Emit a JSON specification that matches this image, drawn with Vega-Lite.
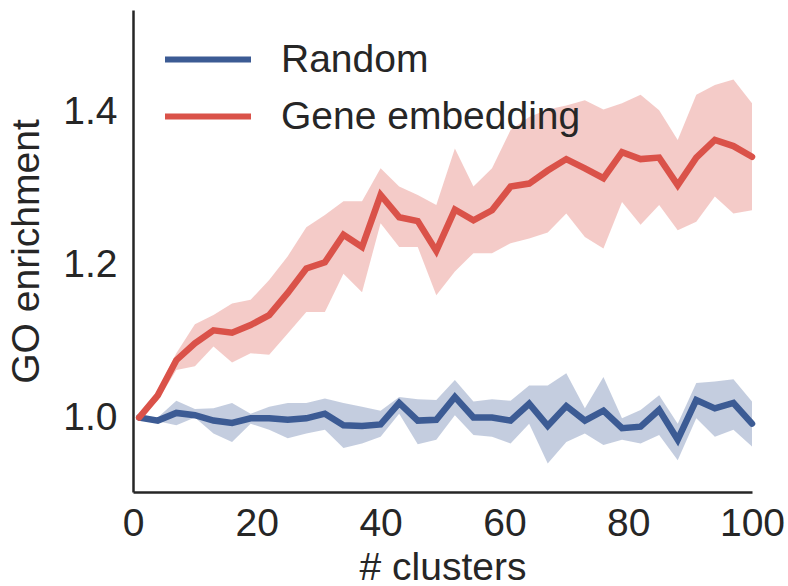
{
  "$schema": "https://vega.github.io/schema/vega-lite/v6.json",
  "width": 619,
  "height": 482,
  "autosize": {"type": "none"},
  "padding": {"left": 133, "top": 10, "right": 36, "bottom": 94},
  "background": "white",
  "config": {
    "view": {"stroke": null},
    "font": "Liberation Sans",
    "axis": {
      "grid": false,
      "ticks": false,
      "domainColor": "#262626",
      "domainWidth": 2.5,
      "labelFont": "Liberation Sans",
      "labelFontSize": 39,
      "labelColor": "#262626",
      "titleFont": "Liberation Sans",
      "titleFontSize": 39,
      "titleFontWeight": "normal",
      "titleColor": "#262626"
    },
    "legend": {
      "labelFont": "Liberation Sans",
      "labelFontSize": 39,
      "labelColor": "#262626",
      "labelLimit": 500
    }
  },
  "data": {
    "values": [
      {"n":1,"series":"Random","mean":1.000,"lo":1.000,"hi":1.000},
      {"n":4,"series":"Random","mean":0.996,"lo":0.995,"hi":1.000},
      {"n":7,"series":"Random","mean":1.006,"lo":0.990,"hi":1.022},
      {"n":10,"series":"Random","mean":1.003,"lo":1.000,"hi":1.011},
      {"n":13,"series":"Random","mean":0.996,"lo":0.979,"hi":1.012},
      {"n":16,"series":"Random","mean":0.993,"lo":0.968,"hi":1.019},
      {"n":19,"series":"Random","mean":0.999,"lo":0.992,"hi":1.005},
      {"n":22,"series":"Random","mean":0.999,"lo":0.984,"hi":1.014},
      {"n":25,"series":"Random","mean":0.997,"lo":0.973,"hi":1.019},
      {"n":28,"series":"Random","mean":0.999,"lo":0.979,"hi":1.019},
      {"n":31,"series":"Random","mean":1.005,"lo":0.984,"hi":1.025},
      {"n":34,"series":"Random","mean":0.990,"lo":0.960,"hi":1.019},
      {"n":37,"series":"Random","mean":0.989,"lo":0.966,"hi":1.014},
      {"n":40,"series":"Random","mean":0.991,"lo":0.975,"hi":1.009},
      {"n":43,"series":"Random","mean":1.019,"lo":1.005,"hi":1.027},
      {"n":46,"series":"Random","mean":0.996,"lo":0.965,"hi":1.024},
      {"n":49,"series":"Random","mean":0.997,"lo":0.971,"hi":1.023},
      {"n":52,"series":"Random","mean":1.027,"lo":1.003,"hi":1.049},
      {"n":55,"series":"Random","mean":1.000,"lo":0.977,"hi":1.021},
      {"n":58,"series":"Random","mean":1.000,"lo":0.975,"hi":1.024},
      {"n":61,"series":"Random","mean":0.996,"lo":0.966,"hi":1.022},
      {"n":64,"series":"Random","mean":1.018,"lo":0.992,"hi":1.042},
      {"n":67,"series":"Random","mean":0.989,"lo":0.940,"hi":1.042},
      {"n":70,"series":"Random","mean":1.015,"lo":0.968,"hi":1.058},
      {"n":73,"series":"Random","mean":0.996,"lo":0.979,"hi":1.012},
      {"n":76,"series":"Random","mean":1.009,"lo":0.964,"hi":1.053},
      {"n":79,"series":"Random","mean":0.986,"lo":0.971,"hi":0.999},
      {"n":82,"series":"Random","mean":0.988,"lo":0.966,"hi":1.010},
      {"n":85,"series":"Random","mean":1.010,"lo":0.977,"hi":1.029},
      {"n":88,"series":"Random","mean":0.971,"lo":0.944,"hi":0.992},
      {"n":91,"series":"Random","mean":1.023,"lo":0.999,"hi":1.045},
      {"n":94,"series":"Random","mean":1.012,"lo":0.975,"hi":1.047},
      {"n":97,"series":"Random","mean":1.019,"lo":0.984,"hi":1.050},
      {"n":100,"series":"Random","mean":0.992,"lo":0.962,"hi":1.021},
      {"n":1,"series":"Gene embedding","mean":1.000,"lo":1.000,"hi":1.000},
      {"n":4,"series":"Gene embedding","mean":1.029,"lo":1.022,"hi":1.036},
      {"n":7,"series":"Gene embedding","mean":1.075,"lo":1.062,"hi":1.084},
      {"n":10,"series":"Gene embedding","mean":1.097,"lo":1.067,"hi":1.122},
      {"n":13,"series":"Gene embedding","mean":1.114,"lo":1.093,"hi":1.134},
      {"n":16,"series":"Gene embedding","mean":1.111,"lo":1.072,"hi":1.149},
      {"n":19,"series":"Gene embedding","mean":1.121,"lo":1.084,"hi":1.154},
      {"n":22,"series":"Gene embedding","mean":1.134,"lo":1.082,"hi":1.180},
      {"n":25,"series":"Gene embedding","mean":1.163,"lo":1.110,"hi":1.211},
      {"n":28,"series":"Gene embedding","mean":1.195,"lo":1.138,"hi":1.249},
      {"n":31,"series":"Gene embedding","mean":1.203,"lo":1.138,"hi":1.265},
      {"n":34,"series":"Gene embedding","mean":1.239,"lo":1.188,"hi":1.283},
      {"n":37,"series":"Gene embedding","mean":1.223,"lo":1.164,"hi":1.283},
      {"n":40,"series":"Gene embedding","mean":1.291,"lo":1.254,"hi":1.326},
      {"n":43,"series":"Gene embedding","mean":1.262,"lo":1.223,"hi":1.302},
      {"n":46,"series":"Gene embedding","mean":1.257,"lo":1.223,"hi":1.291},
      {"n":49,"series":"Gene embedding","mean":1.218,"lo":1.160,"hi":1.278},
      {"n":52,"series":"Gene embedding","mean":1.272,"lo":1.191,"hi":1.352},
      {"n":55,"series":"Gene embedding","mean":1.258,"lo":1.215,"hi":1.302},
      {"n":58,"series":"Gene embedding","mean":1.271,"lo":1.215,"hi":1.326},
      {"n":61,"series":"Gene embedding","mean":1.302,"lo":1.228,"hi":1.376},
      {"n":64,"series":"Gene embedding","mean":1.306,"lo":1.234,"hi":1.393},
      {"n":67,"series":"Gene embedding","mean":1.323,"lo":1.242,"hi":1.403},
      {"n":70,"series":"Gene embedding","mean":1.338,"lo":1.267,"hi":1.408},
      {"n":73,"series":"Gene embedding","mean":1.326,"lo":1.236,"hi":1.415},
      {"n":76,"series":"Gene embedding","mean":1.313,"lo":1.221,"hi":1.403},
      {"n":79,"series":"Gene embedding","mean":1.347,"lo":1.282,"hi":1.411},
      {"n":82,"series":"Gene embedding","mean":1.338,"lo":1.252,"hi":1.422},
      {"n":85,"series":"Gene embedding","mean":1.340,"lo":1.278,"hi":1.402},
      {"n":88,"series":"Gene embedding","mean":1.304,"lo":1.245,"hi":1.363},
      {"n":91,"series":"Gene embedding","mean":1.340,"lo":1.256,"hi":1.422},
      {"n":94,"series":"Gene embedding","mean":1.363,"lo":1.289,"hi":1.435},
      {"n":97,"series":"Gene embedding","mean":1.355,"lo":1.267,"hi":1.442},
      {"n":100,"series":"Gene embedding","mean":1.341,"lo":1.271,"hi":1.411}
    ]
  },
  "encoding": {
    "x": {
      "field": "n",
      "type": "quantitative",
      "scale": {"domain": [0, 100], "nice": false},
      "axis": {"title": "# clusters", "values": [0, 20, 40, 60, 80, 100], "labelPadding": 12, "titlePadding": 5, "labelFlush": false}
    },
    "color": {
      "field": "series",
      "type": "nominal",
      "scale": {"domain": ["Random", "Gene embedding"], "range": ["#3C5B94", "#DA5249"]},
      "legend": {
        "title": null,
        "orient": "none",
        "legendX": 29,
        "legendY": 21,
        "symbolType": "stroke",
        "symbolSize": 7396,
        "symbolStrokeWidth": 6,
        "symbolOpacity": 1,
        "labelOffset": 27,
        "clipHeight": 57,
        "rowPadding": 0,
        "padding": 0
      }
    }
  },
  "layer": [
    {
      "mark": {"type": "area", "opacity": 0.3},
      "encoding": {
        "y": {
          "field": "lo",
          "type": "quantitative",
          "scale": {"domain": [0.9026, 1.533], "nice": false, "zero": false},
          "axis": {"title": "GO enrichment", "values": [1.0, 1.2, 1.4], "format": ".1f", "labelPadding": 16, "titlePadding": 16}
        },
        "y2": {"field": "hi"}
      }
    },
    {
      "mark": {"type": "line", "strokeWidth": 6.5, "strokeJoin": "miter", "strokeCap": "round"},
      "encoding": {
        "y": {"field": "mean", "type": "quantitative"}
      }
    }
  ]
}
